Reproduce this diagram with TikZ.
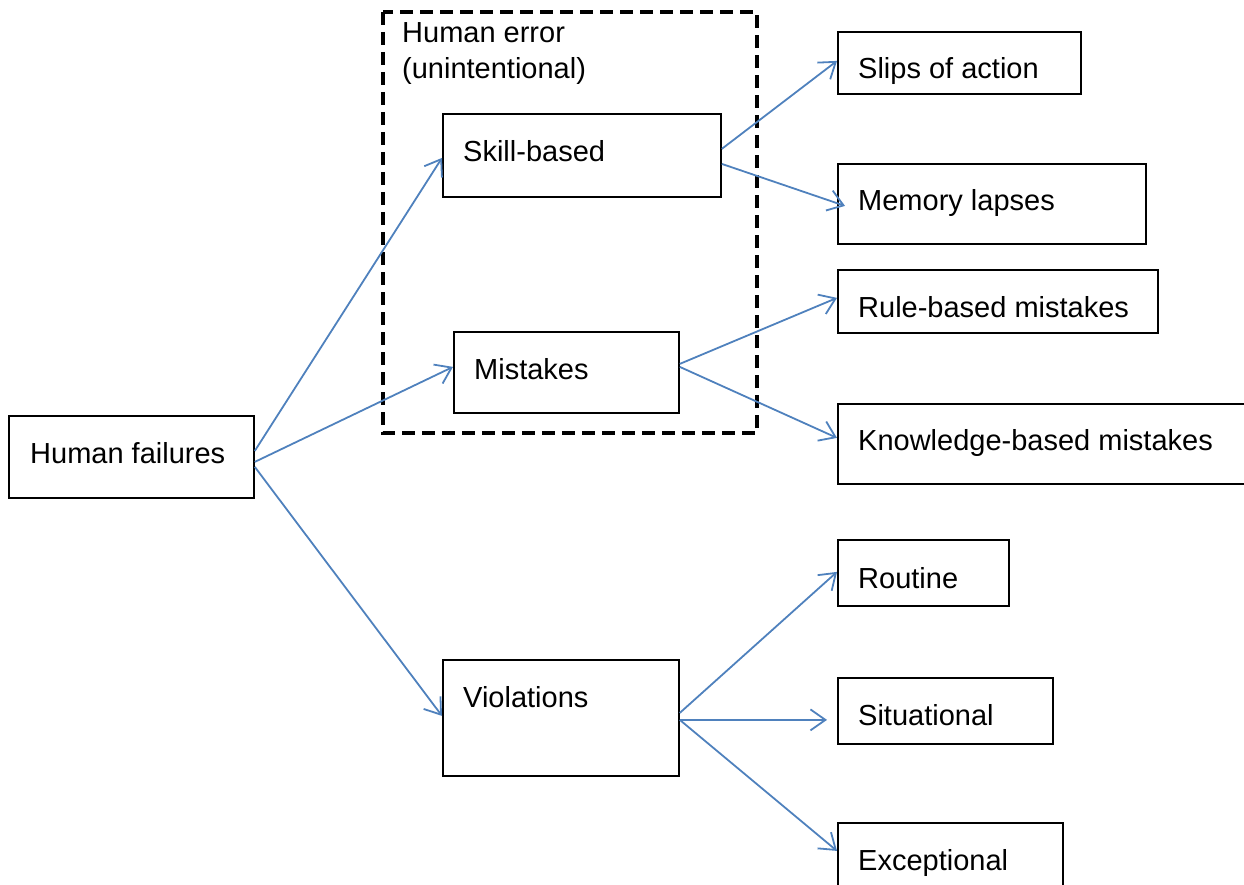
\documentclass[tikz,border=0pt]{standalone}
\usepackage{fontspec}
\setmainfont{Liberation Sans}
\usetikzlibrary{arrows.meta}
\definecolor{conncol}{RGB}{79,129,189}
\tikzset{
  box/.style={draw=black, line width=1.8pt, inner sep=0pt, anchor=north west, fill=white},
  lbl/.style={anchor=base west, inner sep=0pt, font=\fontsize{29}{36}\selectfont},
  conn/.style={draw=conncol, line width=1.8pt, -{Straight Barb[length=15pt,width=21pt,line width=1.8pt]}},
  groupbox/.style={draw=black, line width=3.2pt, dash pattern=on 13pt off 7pt}
}
\begin{document}
\begin{tikzpicture}[x=1pt,y=-1pt]
\useasboundingbox (0,0) rectangle (1244,885);
\clip (0,0) rectangle (1244,885);
% group box
\draw[groupbox] (383,12) rectangle (757,433);
\node[lbl] (gt1) at (402,43) {Human error};
\node[lbl] (gt2) at (402,79) {(unintentional)};
% boxes
\node[box, minimum width=245pt, minimum height=82pt] (hf) at (8,415) {};
\node[box, minimum width=278pt, minimum height=83pt] (sb) at (442,113) {};
\node[box, minimum width=225pt, minimum height=81pt] (mi) at (453,331) {};
\node[box, minimum width=236pt, minimum height=116pt] (vi) at (442,659) {};
\node[box, minimum width=243pt, minimum height=62pt] (sl) at (837,31) {};
\node[box, minimum width=308pt, minimum height=80pt] (ml) at (837,163) {};
\node[box, minimum width=320pt, minimum height=63pt] (rb) at (837,269) {};
\node[box, minimum width=500pt, minimum height=80pt] (kb) at (837,403) {};
\node[box, minimum width=171pt, minimum height=66pt] (ro) at (837,539) {};
\node[box, minimum width=215pt, minimum height=66pt] (si) at (837,677) {};
\node[box, minimum width=225pt, minimum height=90pt] (ex) at (837,822) {};
% texts
\node[lbl] (hft) at (30,463) {Human failures};
\node[lbl] (sbt) at (463,162) {Skill-based};
\node[lbl] (mit) at (474,379) {Mistakes};
\node[lbl] (vit) at (463,707) {Violations};
\node[lbl] (slt) at (858,79) {Slips of action};
\node[lbl] (mlt) at (858,211) {Memory lapses};
\node[lbl] (rbt) at (858,317) {Rule-based mistakes};
\node[lbl] (kbt) at (858,450) {Knowledge-based mistakes};
\node[lbl] (rot) at (858,588) {Routine};
\node[lbl] (sit) at (858,725) {Situational};
\node[lbl] (ext) at (858,870) {Exceptional};
% connectors
\draw[conn] ([yshift=6pt]hf.east) -- ([yshift=-2.5pt]sb.west);
\draw[conn] ([yshift=-5pt]hf.east) -- ([yshift=5.5pt]mi.west);
\draw[conn] ([yshift=-10pt]hf.east) -- ([yshift=2pt]vi.west);
\draw[conn] ([yshift=6.5pt]sb.east) -- ([yshift=2pt]sl.west);
\draw[conn] ([yshift=-8.5pt]sb.east) -- ([xshift=8pt,yshift=-2pt]ml.west);
\draw[conn] ([yshift=8.5pt]mi.east) -- ([yshift=3.5pt]rb.west);
\draw[conn] ([yshift=5.5pt]mi.east) -- ([yshift=6pt]kb.west);
\draw[conn] ([yshift=5pt]vi.east) -- ([yshift=1pt]ro.west);
\draw[conn] ([yshift=-2pt]vi.east) -- ([xshift=-10pt,yshift=-9pt]si.west);
\draw[conn] ([yshift=-2pt]vi.east) -- ([yshift=17pt]ex.west);
\end{tikzpicture}
\end{document}
